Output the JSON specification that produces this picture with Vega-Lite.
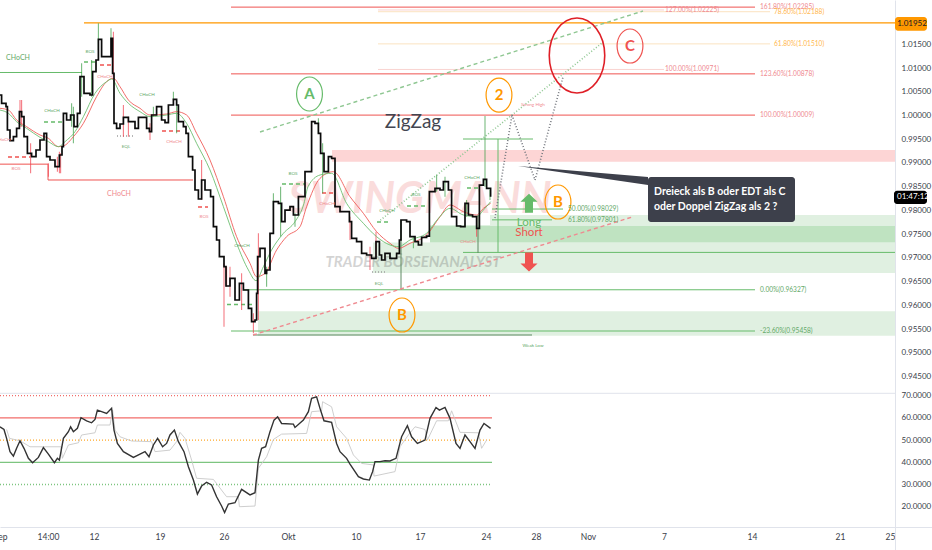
{
  "$schema": "https://vega.github.io/schema/vega-lite/v5.json",
  "width": 932,
  "height": 550,
  "padding": 0,
  "autosize": {"type": "none"},
  "background": "white",
  "config": {"view": {"stroke": null}, "font": "Lato"},
  "datasets": {
    "close": [
      {"t":0,"p":1.00433},{"t":0.8,"p":1.00257},{"t":3,"p":1.00187},{"t":3.7,"p":0.99695},{"t":5,"p":0.9947},{"t":6.7,"p":0.99554},{"t":8.3,"p":0.9973},{"t":9.7,"p":1.00081},{"t":10.8,"p":0.99976},{"t":12,"p":0.99554},{"t":13.7,"p":0.99203},{"t":15.8,"p":0.99133},{"t":18,"p":0.99273},{"t":20,"p":0.99484},{"t":22,"p":0.99625},{"t":23.3,"p":0.99133},{"t":25,"p":0.99062},{"t":27.5,"p":0.98922},{"t":29.7,"p":0.99168},{"t":31,"p":0.99344},{"t":31.7,"p":1.00046},{"t":33.3,"p":0.99906},{"t":35.3,"p":1.00011},{"t":37,"p":0.99765},{"t":38.7,"p":1.00046},{"t":40,"p":1.00819},{"t":42,"p":1.00468},{"t":45,"p":1.00433},{"t":46.3,"p":1.00924},{"t":48,"p":1.0117},{"t":49.2,"p":1.01606},{"t":50.8,"p":1.01241},{"t":53,"p":1.01241},{"t":55.5,"p":1.01627},{"t":56.3,"p":1.00889},{"t":57,"p":0.99835},{"t":58.3,"p":0.9973},{"t":60,"p":0.99821},{"t":61.7,"p":0.99962},{"t":64.2,"p":0.9987},{"t":67.5,"p":0.9973},{"t":69.2,"p":0.99962},{"t":72,"p":0.99962},{"t":73.3,"p":0.9973},{"t":74.7,"p":0.9966},{"t":75.8,"p":1.00011},{"t":78.3,"p":1.00187},{"t":80.8,"p":0.99906},{"t":82.5,"p":0.99849},{"t":84.2,"p":1.00222},{"t":86.7,"p":1.00341},{"t":88.3,"p":1.00222},{"t":89.2,"p":0.9987},{"t":91.7,"p":0.99765},{"t":93,"p":0.99625},{"t":94.2,"p":0.99133},{"t":96.3,"p":0.98852},{"t":97.5,"p":0.9843},{"t":99.2,"p":0.9824},{"t":100.8,"p":0.98641},{"t":102.5,"p":0.9843},{"t":105.3,"p":0.9829},{"t":106.7,"p":0.97657},{"t":108.3,"p":0.97376},{"t":109.7,"p":0.97025},{"t":112,"p":0.96814},{"t":113,"p":0.96407},{"t":115,"p":0.96568},{"t":117.5,"p":0.96112},{"t":119.7,"p":0.96463},{"t":121.7,"p":0.96322},{"t":124.2,"p":0.95936},{"t":125.8,"p":0.95655},{"t":127.5,"p":0.9569},{"t":128.3,"p":0.96252},{"t":128.8,"p":0.97025},{"t":130,"p":0.972},{"t":132.5,"p":0.96673},{"t":133.3,"p":0.96744},{"t":135,"p":0.97517},{"t":136.7,"p":0.98184},{"t":139.2,"p":0.98149},{"t":140.8,"p":0.97762},{"t":142.5,"p":0.98008},{"t":145,"p":0.98079},{"t":146.7,"p":0.97903},{"t":149.2,"p":0.98289},{"t":152.5,"p":0.98816},{"t":155.8,"p":0.9987},{"t":157.5,"p":0.99835},{"t":159.2,"p":0.99624},{"t":160.3,"p":0.99203},{"t":162,"p":0.98816},{"t":164.2,"p":0.99133},{"t":165.8,"p":0.99097},{"t":167.5,"p":0.98079},{"t":170,"p":0.97973},{"t":172.5,"p":0.97973},{"t":174.7,"p":0.97762},{"t":175.8,"p":0.97411},{"t":178.3,"p":0.97341},{"t":180.8,"p":0.97095},{"t":183.3,"p":0.9706},{"t":185.8,"p":0.9699},{"t":188,"p":0.97341},{"t":189.7,"p":0.9706},{"t":190.8,"p":0.96955},{"t":192.5,"p":0.97095},{"t":195,"p":0.9699},{"t":198.3,"p":0.97095},{"t":199.7,"p":0.97376},{"t":200.5,"p":0.97798},{"t":203.3,"p":0.97762},{"t":205,"p":0.97446},{"t":207.5,"p":0.97341},{"t":209.2,"p":0.97271},{"t":210.8,"p":0.97432},{"t":213.3,"p":0.9746},{"t":214.7,"p":0.98395},{"t":217.5,"p":0.98465},{"t":220,"p":0.9843},{"t":221.7,"p":0.98606},{"t":224.2,"p":0.9843},{"t":225.8,"p":0.97868},{"t":228.3,"p":0.97671},{"t":230.3,"p":0.97657},{"t":232.5,"p":0.98149},{"t":234.2,"p":0.97903},{"t":236.3,"p":0.97868},{"t":238.3,"p":0.97622},{"t":239.7,"p":0.98535},{"t":241.7,"p":0.98655},{"t":243.3,"p":0.98465},{"t":245.3,"p":0.98289}
    ],
    "wicks": [
      {"t":10,"p":1.00327,"p2":0.99765,"tone":"wickred"},{"t":10.8,"p":1.00327,"p2":0.99765,"tone":"wickred"},{"t":15.3,"p":0.99414,"p2":0.98781,"tone":"wickred"},{"t":24.2,"p":0.98992,"p2":0.98711,"tone":"wickred"},{"t":29.7,"p":0.99238,"p2":0.98781,"tone":"wickred"},{"t":28.7,"p":0.99133,"p2":0.98817,"tone":"wickred"},{"t":30.3,"p":0.99203,"p2":0.98781,"tone":"wickred"},{"t":56.7,"p":1.01768,"p2":1.00819,"tone":"wickred"},{"t":75,"p":0.99835,"p2":0.99484,"tone":"wickred"},{"t":61.7,"p":1.00222,"p2":0.99554,"tone":"wickred"},{"t":64.2,"p":0.99976,"p2":0.99554,"tone":"wickred"},{"t":100.8,"p":0.99062,"p2":0.98219,"tone":"wickred"},{"t":112,"p":0.96885,"p2":0.95549,"tone":"wickred"},{"t":115,"p":0.96814,"p2":0.96182,"tone":"wickred"},{"t":113.3,"p":0.96814,"p2":0.96393,"tone":"wickred"},{"t":120.8,"p":0.96674,"p2":0.95901,"tone":"wickred"},{"t":126.7,"p":0.95831,"p2":0.95409,"tone":"wickred"},{"t":129.2,"p":0.97517,"p2":0.9569,"tone":"wickred"},{"t":36.7,"p":1.00187,"p2":0.99414,"tone":"wickgreen"},{"t":35.8,"p":1.00257,"p2":0.99765,"tone":"wickgreen"},{"t":49.2,"p":1.01943,"p2":1.01381,"tone":"wickgreen"},{"t":55.5,"p":1.01838,"p2":1.01592,"tone":"wickgreen"},{"t":40.8,"p":1.011,"p2":1.00398,"tone":"wickgreen"},{"t":45.8,"p":1.0117,"p2":1.00398,"tone":"wickgreen"},{"t":86.7,"p":1.00503,"p2":1.00327,"tone":"wickgreen"},{"t":88.3,"p":1.00327,"p2":0.99625,"tone":"wickgreen"},{"t":76.7,"p":1.00187,"p2":0.99976,"tone":"wickgreen"},{"t":136.7,"p":0.9836,"p2":0.98008,"tone":"wickgreen"},{"t":133.3,"p":0.96814,"p2":0.96393,"tone":"wickgreen"},{"t":140.3,"p":0.985,"p2":0.97446,"tone":"wickgreen"},{"t":147.5,"p":0.97938,"p2":0.97657,"tone":"wickgreen"},{"t":159.2,"p":0.99941,"p2":0.99624,"tone":"wickgreen"},{"t":161.3,"p":0.99414,"p2":0.9836,"tone":"wickgreen"},{"t":175,"p":0.97868,"p2":0.97376,"tone":"wickred"},{"t":185,"p":0.97235,"p2":0.96744,"tone":"wickred"},{"t":188,"p":0.97552,"p2":0.97025,"tone":"wickred"},{"t":206.7,"p":0.97446,"p2":0.972,"tone":"wickgreen"},{"t":218.3,"p":0.98746,"p2":0.98395,"tone":"wickgreen"},{"t":222.5,"p":0.98711,"p2":0.98289,"tone":"wickgreen"},{"t":238.3,"p":0.97868,"p2":0.97446,"tone":"wickred"},{"t":242.5,"p":0.99992,"p2":0.985,"tone":"wickgreen"},{"t":245,"p":0.9843,"p2":0.98219,"tone":"wickgreen"},{"t":233.3,"p":0.98219,"p2":0.97868,"tone":"wickgreen"}
    ],
    "maRed": [
      {"t":0,"p":1.00152},{"t":4.2,"p":1.00116},{"t":8.3,"p":0.99906},{"t":13.3,"p":0.99765},{"t":20,"p":0.9959},{"t":24.2,"p":0.99519},{"t":29.2,"p":0.99344},{"t":31.7,"p":0.99358},{"t":36.7,"p":0.99554},{"t":41.7,"p":0.99835},{"t":48.3,"p":1.00398},{"t":53.3,"p":1.00714},{"t":56.7,"p":1.00784},{"t":60,"p":1.00608},{"t":64.2,"p":1.00327},{"t":70,"p":1.00152},{"t":75,"p":1.00011},{"t":83.3,"p":1.00032},{"t":88.3,"p":1.00081},{"t":93.3,"p":1.00011},{"t":98.3,"p":0.99625},{"t":105,"p":0.99062},{"t":111.7,"p":0.9829},{"t":118.3,"p":0.97447},{"t":125,"p":0.96885},{"t":128.3,"p":0.96603},{"t":132.5,"p":0.96674},{"t":138.3,"p":0.97166},{"t":143.3,"p":0.97447},{"t":150,"p":0.97657},{"t":153.3,"p":0.98079},{"t":160,"p":0.98676},{"t":166.7,"p":0.98816},{"t":175,"p":0.98289},{"t":181.7,"p":0.97938},{"t":188.3,"p":0.97552},{"t":195,"p":0.97306},{"t":199.2,"p":0.972},{"t":205,"p":0.97306},{"t":213.3,"p":0.97481},{"t":220,"p":0.97868},{"t":225,"p":0.98114},{"t":231.7,"p":0.97973},{"t":238.3,"p":0.97903},{"t":241.7,"p":0.98043},{"t":245.3,"p":0.98149}
    ],
    "maGreen": [
      {"t":0,"p":1.00116},{"t":4.2,"p":1.00046},{"t":8.3,"p":0.9987},{"t":13.3,"p":0.9973},{"t":20,"p":0.9954},{"t":24.2,"p":0.99449},{"t":29.2,"p":0.99344},{"t":32.5,"p":0.99449},{"t":37.5,"p":0.9966},{"t":41.7,"p":0.99976},{"t":47.5,"p":1.00468},{"t":53.3,"p":1.00714},{"t":55.8,"p":1.0077},{"t":60,"p":1.00468},{"t":64.2,"p":1.00257},{"t":70,"p":1.00081},{"t":75,"p":0.99976},{"t":83.3,"p":1.00011},{"t":88.3,"p":1.00046},{"t":93.3,"p":0.99835},{"t":98.3,"p":0.99414},{"t":105,"p":0.98852},{"t":111.7,"p":0.98079},{"t":118.3,"p":0.97306},{"t":124.2,"p":0.96744},{"t":128,"p":0.96519},{"t":131.7,"p":0.96814},{"t":135.8,"p":0.97166},{"t":141.7,"p":0.97517},{"t":147.5,"p":0.97763},{"t":152,"p":0.98149},{"t":154,"p":0.985},{"t":160,"p":0.98746},{"t":165.8,"p":0.98781},{"t":173.3,"p":0.98149},{"t":181.7,"p":0.97727},{"t":188.3,"p":0.97446},{"t":195,"p":0.97271},{"t":199.2,"p":0.97236},{"t":205,"p":0.97376},{"t":213.3,"p":0.97517},{"t":219.2,"p":0.97833},{"t":225,"p":0.98043},{"t":231.7,"p":0.97903},{"t":238.3,"p":0.97868},{"t":241.7,"p":0.98008},{"t":245.3,"p":0.98184}
    ],
    "zones": [
      {"t":166,"t2":447.5,"p":0.99273,"p2":0.99027,"tone":"bandred"},
      {"t":186.5,"t2":447.5,"p":0.97323,"p2":0.96681,"tone":"bandlight"},
      {"t":215,"t2":447.5,"p":0.97682,"p2":0.97323,"tone":"banddark"},
      {"t":245,"t2":447.5,"p":0.97903,"p2":0.97682,"tone":"bandlight"},
      {"t":129,"t2":447.5,"p":0.95873,"p2":0.95359,"tone":"bandlight"}
    ],
    "segments": [
      {"t":0,"t2":447.5,"p":0.94145,"p2":0.94145,"tone":"pane","style":"solid"},
      {"t":42,"t2":447.5,"p":1.01952,"p2":1.01952,"tone":"orange","style":"heavy"},
      {"t":115.5,"t2":377.5,"p":1.02285,"p2":1.02285,"tone":"red","style":"solid"},
      {"t":189,"t2":332,"p":1.02225,"p2":1.02225,"tone":"palesalmon","style":"solid"},
      {"t":189,"t2":385,"p":1.02188,"p2":1.02188,"tone":"paleamber","style":"solid"},
      {"t":189,"t2":385,"p":1.0151,"p2":1.0151,"tone":"paleamber","style":"solid"},
      {"t":189,"t2":332,"p":1.00971,"p2":1.00971,"tone":"palesalmon","style":"solid"},
      {"t":115.5,"t2":377.5,"p":1.00878,"p2":1.00878,"tone":"red","style":"solid"},
      {"t":115.5,"t2":377.5,"p":1.00009,"p2":1.00009,"tone":"red","style":"solid"},
      {"t":246,"t2":281.5,"p":0.98029,"p2":0.98029,"tone":"green","style":"solid"},
      {"t":246,"t2":276,"p":0.97801,"p2":0.97801,"tone":"green","style":"solid"},
      {"t":121.5,"t2":377.5,"p":0.96327,"p2":0.96327,"tone":"green","style":"solid"},
      {"t":115.5,"t2":377.5,"p":0.95458,"p2":0.95458,"tone":"green","style":"solid"},
      {"t":126.5,"t2":266,"p":0.95374,"p2":0.95374,"tone":"dark","style":"solid"},
      {"t":231.5,"t2":447.5,"p":0.97115,"p2":0.97115,"tone":"green","style":"solid"},
      {"t":231.5,"t2":266.5,"p":0.99505,"p2":0.99505,"tone":"green","style":"solid"},
      {"t":249,"t2":249,"p":0.99505,"p2":0.97115,"tone":"green","style":"solid"},
      {"t":239,"t2":239,"p":0.97903,"p2":0.97102,"tone":"dark","style":"solid"},
      {"t":200.5,"t2":200.5,"p":0.97798,"p2":0.96322,"tone":"dark","style":"solid"},
      {"t":0,"t2":41,"p":1.00907,"p2":1.00907,"tone":"green","style":"solid"},
      {"t":0,"t2":24,"p":0.98975,"p2":0.98975,"tone":"red","style":"solid"},
      {"t":24,"t2":96.5,"p":0.98641,"p2":0.98641,"tone":"red","style":"solid"},
      {"t":24,"t2":24,"p":0.98975,"p2":0.98641,"tone":"red","style":"solid"},
      {"t":42,"t2":47.5,"p":1.01128,"p2":1.01128,"tone":"green","style":"dash"},
      {"t":22,"t2":31,"p":0.99863,"p2":0.99863,"tone":"green","style":"dash"},
      {"t":113.5,"t2":127.5,"p":0.96018,"p2":0.96018,"tone":"green","style":"dash"},
      {"t":141,"t2":152.5,"p":0.98556,"p2":0.98556,"tone":"green","style":"dash"},
      {"t":188.5,"t2":195,"p":0.97755,"p2":0.97755,"tone":"green","style":"dash"},
      {"t":203.5,"t2":212.5,"p":0.98093,"p2":0.98093,"tone":"green","style":"dash"},
      {"t":233.5,"t2":239,"p":0.98472,"p2":0.98472,"tone":"green","style":"dash"},
      {"t":4,"t2":15,"p":0.99126,"p2":0.99126,"tone":"red","style":"dash"},
      {"t":99,"t2":104,"p":0.98072,"p2":0.98072,"tone":"red","style":"dash"},
      {"t":81,"t2":90,"p":0.99674,"p2":0.99674,"tone":"red","style":"dash"},
      {"t":50,"t2":56,"p":1.01065,"p2":1.01065,"tone":"red","style":"dash"},
      {"t":161,"t2":167.5,"p":0.98367,"p2":0.98367,"tone":"red","style":"dash"},
      {"t":58.5,"t2":67.5,"p":0.99568,"p2":0.99568,"tone":"grey","style":"dot"},
      {"t":186,"t2":192.5,"p":0.96701,"p2":0.96701,"tone":"grey","style":"dot"},
      {"t":126.5,"t2":316.5,"p":0.95374,"p2":0.97867,"tone":"salmon","style":"dash"},
      {"t":130,"t2":321.5,"p":0.99653,"p2":1.02203,"tone":"sage","style":"dash"},
      {"t":189,"t2":301,"p":0.97755,"p2":1.01529,"tone":"sage","style":"dot"},
      {"t":247.5,"t2":256,"p":0.9784,"p2":1.00011,"tone":"ink","style":"dot"},
      {"t":256,"t2":267.5,"p":1.00011,"p2":0.98641,"tone":"ink","style":"dot"},
      {"t":267.5,"t2":281.5,"p":0.98641,"p2":1.00812,"tone":"ink","style":"dot"}
    ],
    "tail": [
      {"t":259,"p":0.98936,"p2":0.98936,"tone":"slate"},
      {"t":324,"p":0.98704,"p2":0.98535,"tone":"slate"}
    ],
    "boxes": [
      {"t":324,"t2":397.5,"p":0.98704,"p2":0.97755,"tone":"slate"},
      {"t":447.5,"t2":463.5,"p":1.02077,"p2":1.01788,"tone":"orange"},
      {"t":447,"t2":463.5,"p":0.98415,"p2":0.98135,"tone":"black"}
    ],
    "ellipses": [
      {"t":154.75,"p":1.00454,"tone":"green","ry":16},
      {"t":249.5,"p":1.00432,"tone":"orange","ry":17},
      {"t":315,"p":1.01465,"tone":"red","ry":17},
      {"t":288.5,"p":1.01265,"tone":"deepred","ry":37.5},
      {"t":201,"p":0.95795,"tone":"orange","ry":17},
      {"t":279,"p":0.98177,"tone":"orange","ry":17}
    ],
    "letters": [
      {"t":154.75,"p":1.00454,"tone":"green","label":"A"},
      {"t":249.5,"p":1.00432,"tone":"orange","label":"2"},
      {"t":315,"p":1.01465,"tone":"red","label":"C"},
      {"t":201,"p":0.95795,"tone":"orange","label":"B"},
      {"t":279,"p":0.98177,"tone":"orange","label":"B"}
    ],
    "fibLabels": [
      {"t":380,"p":1.02285,"tone":"salmon","label":"161.80%(1.02285)"},
      {"t":332.5,"p":1.02225,"tone":"salmon","label":"127.00%(1.02225)"},
      {"t":387,"p":1.02188,"tone":"amber","label":"78.60%(1.02188)"},
      {"t":387,"p":1.0151,"tone":"amber","label":"61.80%(1.01510)"},
      {"t":332.5,"p":1.00971,"tone":"salmon","label":"100.00%(1.00971)"},
      {"t":380,"p":1.00878,"tone":"salmon","label":"123.60%(1.00878)"},
      {"t":380,"p":1.00009,"tone":"salmon","label":"100.00%(1.00009)"},
      {"t":284,"p":0.98029,"tone":"olive","label":"50.00%(0.98029)"},
      {"t":284,"p":0.97801,"tone":"olive","label":"61.80%(0.97801)"},
      {"t":380,"p":0.96327,"tone":"olive","label":"0.00%(0.96327)"},
      {"t":380,"p":0.95458,"tone":"olive","label":"-23.60%(0.95458)"}
    ],
    "structure": [
      {"t":45,"p":1.01339,"tone":"olive","label":"BOS"},
      {"t":52.5,"p":1.00812,"tone":"salmon","label":"CHoCH"},
      {"t":26,"p":1.00095,"tone":"olive","label":"CHoCH"},
      {"t":1.5,"p":0.99484,"tone":"salmon","label":"CHoCH"},
      {"t":8,"p":0.98873,"tone":"salmon","label":"BOS"},
      {"t":63,"p":0.99336,"tone":"olive","label":"EQL"},
      {"t":73.5,"p":1.00432,"tone":"olive","label":"CHoCH"},
      {"t":87,"p":0.99442,"tone":"salmon","label":"CHoCH"},
      {"t":102,"p":0.97861,"tone":"salmon","label":"BOS"},
      {"t":121,"p":0.9725,"tone":"olive","label":"CHoCH"},
      {"t":146.5,"p":0.98767,"tone":"olive","label":"BOS"},
      {"t":163.5,"p":0.98135,"tone":"salmon","label":"CHoCH"},
      {"t":193.5,"p":0.97987,"tone":"olive","label":"CHoCH"},
      {"t":208,"p":0.98325,"tone":"olive","label":"BOS"},
      {"t":236,"p":0.98683,"tone":"olive","label":"CHoCH"},
      {"t":234,"p":0.97334,"tone":"salmon","label":"CHoCH"},
      {"t":189.5,"p":0.96448,"tone":"olive","label":"EQL"},
      {"t":266.5,"p":1.00222,"tone":"salmon","label":"Strong High"},
      {"t":266.5,"p":0.95142,"tone":"olive","label":"Weak Low"}
    ],
    "bigChoch": [
      {"t":9,"p":1.01212,"tone":"olive","label":"CHoCH"},
      {"t":59.5,"p":0.98346,"tone":"salmon","label":"CHoCH"}
    ],
    "arrows": [
      {"t":264.5,"p":0.98152,"tone":"green","dir":"up"},
      {"t":264.5,"p":0.96912,"tone":"red","dir":"down"}
    ],
    "longShort": [
      {"t":264.5,"p":0.97734,"tone":"green","label":"Long"},
      {"t":264.5,"p":0.97524,"tone":"red","label":"Short"}
    ],
    "callout": [
      {"t":327,"p":0.98394,"label":"Dreieck als B oder EDT als C"},
      {"t":327,"p":0.98078,"label":"oder Doppel ZigZag als 2 ?"}
    ],
    "levels": [
      {"t":0,"t2":246,"rsi":70,"tone":"red","style":"dot"},
      {"t":0,"t2":246,"rsi":60,"tone":"red","style":"solid"},
      {"t":0,"t2":246,"rsi":50,"tone":"orange","style":"dot"},
      {"t":0,"t2":246,"rsi":40,"tone":"green","style":"solid"},
      {"t":0,"t2":246,"rsi":30,"tone":"green","style":"dot"}
    ],
    "rsi": [
      {"t":0,"rsi":56},{"t":2,"rsi":54.8},{"t":3.3,"rsi":50.8},{"t":5,"rsi":44.8},{"t":6.7,"rsi":42.8},{"t":8.3,"rsi":46.3},{"t":10,"rsi":49.7},{"t":12,"rsi":46.3},{"t":14.2,"rsi":41.8},{"t":16.3,"rsi":39.8},{"t":19.2,"rsi":42.2},{"t":21.7,"rsi":46.6},{"t":24.2,"rsi":43.7},{"t":27.2,"rsi":39.8},{"t":28.7,"rsi":41.8},{"t":29.7,"rsi":41},{"t":31.7,"rsi":50.8},{"t":34.2,"rsi":53.8},{"t":35.3,"rsi":56},{"t":36.7,"rsi":53.8},{"t":38.7,"rsi":55.3},{"t":40.5,"rsi":60.1},{"t":43.3,"rsi":58.7},{"t":45.8,"rsi":57.8},{"t":47.5,"rsi":59.3},{"t":48.7,"rsi":63.5},{"t":50.8,"rsi":62.8},{"t":53.3,"rsi":62},{"t":55.8,"rsi":64.3},{"t":57,"rsi":54.5},{"t":58.7,"rsi":48.5},{"t":61.7,"rsi":44.8},{"t":66.7,"rsi":42.2},{"t":70,"rsi":43.7},{"t":72.5,"rsi":44.8},{"t":74.5,"rsi":42.5},{"t":76.7,"rsi":47.8},{"t":78.8,"rsi":50.8},{"t":81.3,"rsi":47},{"t":83.3,"rsi":48.5},{"t":85,"rsi":52.3},{"t":87.2,"rsi":54.5},{"t":89.2,"rsi":49.3},{"t":92,"rsi":44.8},{"t":94.2,"rsi":38},{"t":96.7,"rsi":32},{"t":98.7,"rsi":25.7},{"t":100.8,"rsi":29.3},{"t":103.3,"rsi":31},{"t":105.8,"rsi":29.8},{"t":108.3,"rsi":24.5},{"t":110.8,"rsi":20.3},{"t":112.3,"rsi":17.4},{"t":114.2,"rsi":21.2},{"t":117.5,"rsi":21.8},{"t":120.8,"rsi":27.8},{"t":125,"rsi":25.3},{"t":127.5,"rsi":26.3},{"t":129.2,"rsi":41},{"t":130.8,"rsi":46.3},{"t":132.8,"rsi":47},{"t":135,"rsi":53.8},{"t":137,"rsi":59},{"t":138.8,"rsi":60.5},{"t":140.8,"rsi":57.5},{"t":146.7,"rsi":57.2},{"t":147.5,"rsi":55.7},{"t":151.7,"rsi":59},{"t":154.2,"rsi":62.8},{"t":155.8,"rsi":68.8},{"t":158.3,"rsi":69.5},{"t":160,"rsi":64.3},{"t":162,"rsi":58.7},{"t":165.8,"rsi":58},{"t":168.3,"rsi":48.5},{"t":170,"rsi":44.8},{"t":173.3,"rsi":41.8},{"t":175,"rsi":39.2},{"t":179.2,"rsi":33.5},{"t":181.7,"rsi":32.5},{"t":184.7,"rsi":32},{"t":186.3,"rsi":35.8},{"t":187.5,"rsi":40.3},{"t":190,"rsi":40.3},{"t":192.5,"rsi":40.7},{"t":195,"rsi":40.6},{"t":198,"rsi":41.8},{"t":200.8,"rsi":51.5},{"t":203.7,"rsi":56.5},{"t":205.8,"rsi":51.5},{"t":208.7,"rsi":48.5},{"t":212.5,"rsi":50},{"t":215,"rsi":59.8},{"t":218,"rsi":64.7},{"t":219.7,"rsi":63.5},{"t":222.5,"rsi":64.7},{"t":225,"rsi":59.8},{"t":228,"rsi":48.5},{"t":230,"rsi":46.3},{"t":232.5,"rsi":52.3},{"t":235,"rsi":49.3},{"t":237.5,"rsi":46.3},{"t":240,"rsi":54.5},{"t":242,"rsi":57.5},{"t":245.3,"rsi":55.3}
    ],
    "rsiMa": [
      {"t":3.3,"rsi":54.8},{"t":4.7,"rsi":50.8},{"t":10,"rsi":49.7},{"t":15,"rsi":47},{"t":21.7,"rsi":47},{"t":30.5,"rsi":47},{"t":31.2,"rsi":41.8},{"t":34.2,"rsi":47.8},{"t":39.2,"rsi":48.8},{"t":40.8,"rsi":52.3},{"t":47.5,"rsi":53.3},{"t":48.7,"rsi":56.8},{"t":55,"rsi":56.8},{"t":56.3,"rsi":63.5},{"t":57.5,"rsi":54.5},{"t":60,"rsi":51.5},{"t":65.8,"rsi":49.6},{"t":75.8,"rsi":49.3},{"t":77.5,"rsi":44.8},{"t":85,"rsi":45.5},{"t":88.3,"rsi":49.3},{"t":90,"rsi":53.5},{"t":92.5,"rsi":50.8},{"t":95.8,"rsi":41},{"t":98.3,"rsi":32.8},{"t":106.7,"rsi":32.3},{"t":113.3,"rsi":24.5},{"t":119.2,"rsi":24.5},{"t":119.7,"rsi":20},{"t":127.5,"rsi":20.3},{"t":129.2,"rsi":37.3},{"t":133.3,"rsi":42.5},{"t":136.7,"rsi":50.3},{"t":140.8,"rsi":52.7},{"t":153.3,"rsi":53},{"t":155.8,"rsi":62.8},{"t":160.8,"rsi":63.2},{"t":161.3,"rsi":67.3},{"t":165.8,"rsi":65},{"t":168.3,"rsi":56},{"t":173.3,"rsi":50.8},{"t":176.7,"rsi":43.3},{"t":180.8,"rsi":39.5},{"t":186.7,"rsi":38.8},{"t":187,"rsi":33.8},{"t":197.5,"rsi":35.8},{"t":200,"rsi":47},{"t":204.2,"rsi":52.3},{"t":207.5,"rsi":56},{"t":212.5,"rsi":54.8},{"t":213.7,"rsi":50},{"t":218.3,"rsi":58.7},{"t":224.2,"rsi":58.7},{"t":225.8,"rsi":63.2},{"t":230,"rsi":53.5},{"t":239.2,"rsi":53.3},{"t":240.8,"rsi":46.3},{"t":243.3,"rsi":50}
    ]
  },
  "encoding": {
    "x": {
      "field": "t",
      "type": "quantitative",
      "scale": {"domain": [0, 466], "nice": false, "zero": false},
      "axis": {
        "orient": "bottom",
        "offset": -23,
        "title": null,
        "grid": false,
        "ticks": false,
        "domainColor": "#e0e3eb",
        "labelColor": "#3a3e4a",
        "labelFont": "Lato",
        "labelFontSize": 8.5,
        "labelPadding": 5,
        "labelFlush": false,
        "labelBound": false,
        "labelOverlap": false,
        "values": [0, 24, 47, 80, 112, 144, 178, 210, 243, 268, 294, 332, 376, 420, 445],
        "labelExpr": "{'0':'Sep','24':'14:00','47':'12','80':'19','112':'26','144':'Okt','178':'10','210':'17','243':'24','268':'28','294':'Nov','332':'7','376':'14','420':'21','445':'25'}[datum.value]"
      }
    },
    "color": {
      "field": "tone",
      "type": "nominal",
      "legend": null,
      "scale": {
        "domain": ["green", "red", "orange", "amber", "paleamber", "palesalmon", "salmon", "olive", "sage", "dark", "grey", "black", "deepred", "bandlight", "banddark", "bandred", "pane", "wickgreen", "wickred", "ink", "slate"],
        "range": ["#66bb6a", "#ef5350", "#ff9800", "#ffb74d", "#fbe3c0", "#f9d4d0", "#ef8a90", "#63a968", "#8fc792", "#5f8a63", "#9e9e9e", "#000000", "#df1f27", "#e0f0e1", "#bfe3c1", "#fdd5d5", "#e0e3eb", "#3f9e48", "#f0424f", "#75787f", "#3d404b"]
      }
    }
  },
  "layer": [
    {
      "encoding": {
        "y": {
          "field": "p",
          "type": "quantitative",
          "scale": {"domain": [0.90842, 1.02435], "nice": false, "zero": false},
          "axis": {
            "orient": "right",
            "offset": -37,
            "title": null,
            "grid": false,
            "ticks": false,
            "domainColor": "#e0e3eb",
            "labelColor": "#3a3e4a",
            "labelFont": "Lato",
            "labelFontSize": 8,
            "labelPadding": 6,
            "labelOverlap": false,
            "labelBound": false,
            "format": ".5f",
            "values": [0.945, 0.95, 0.955, 0.96, 0.965, 0.97, 0.975, 0.98, 0.985, 0.99, 0.995, 1, 1.005, 1.01, 1.015]
          }
        }
      },
      "layer": [
        {
          "data": {"name": "zones"},
          "mark": {"type": "rect"},
          "encoding": {"x2": {"field": "t2"}, "y2": {"field": "p2"}}
        },
        {
          "data": {"values": [{"t": 210, "p": 0.98219, "label": "SWINGMANN"}]},
          "mark": {"type": "text", "fontWeight": "bold", "fontStyle": "italic", "fontSize": 43, "opacity": 0.17},
          "encoding": {"text": {"field": "label"}, "color": {"value": "#e53935"}}
        },
        {
          "data": {"values": [{"t": 206.5, "p": 0.96912, "label": "TRADER BÖRSENANALYST"}]},
          "mark": {"type": "text", "fontWeight": "bold", "fontStyle": "italic", "fontSize": 15, "opacity": 0.25},
          "encoding": {"text": {"field": "label"}, "color": {"value": "#555555"}}
        },
        {
          "data": {"name": "segments"},
          "mark": {"type": "rule"},
          "encoding": {
            "x2": {"field": "t2"},
            "y2": {"field": "p2"},
            "strokeDash": {"field": "style", "type": "nominal", "legend": null, "scale": {"domain": ["solid", "heavy", "dash", "dot"], "range": [[1, 0], [1, 0], [4, 3], [1, 2]]}},
            "strokeWidth": {"field": "style", "type": "nominal", "legend": null, "scale": {"domain": ["solid", "heavy", "dash", "dot"], "range": [1, 1.6, 0.9, 0.9]}}
          }
        },
        {
          "data": {"name": "wicks"},
          "mark": {"type": "rule", "strokeWidth": 1.1, "opacity": 0.7},
          "encoding": {"y2": {"field": "p2"}}
        },
        {
          "data": {"name": "maRed"},
          "mark": {"type": "line", "interpolate": "monotone", "strokeWidth": 1, "opacity": 0.85},
          "encoding": {"color": {"value": "#ef5350"}}
        },
        {
          "data": {"name": "maGreen"},
          "mark": {"type": "line", "interpolate": "monotone", "strokeWidth": 1, "opacity": 0.85},
          "encoding": {"color": {"value": "#66bb6a"}}
        },
        {
          "data": {"name": "close"},
          "mark": {"type": "line", "interpolate": "step-after", "strokeWidth": 1.7},
          "encoding": {"color": {"value": "#0b0b0b"}}
        },
        {
          "data": {"name": "tail"},
          "mark": {"type": "area", "opacity": 1},
          "encoding": {"y2": {"field": "p2"}}
        },
        {
          "data": {"name": "boxes"},
          "mark": {"type": "rect", "cornerRadius": 3},
          "encoding": {"x2": {"field": "t2"}, "y2": {"field": "p2"}}
        },
        {
          "data": {"name": "ellipses"},
          "transform": [{"filter": "datum.ry < 30"}],
          "mark": {"type": "point", "filled": false, "strokeWidth": 1.2, "shape": "M-0.76,0A0.76,1 0 1,1 0.76,0A0.76,1 0 1,1 -0.76,0Z", "opacity": 1, "size": 1156}
        },
        {
          "data": {"name": "ellipses"},
          "transform": [{"filter": "datum.ry > 30"}],
          "mark": {"type": "point", "filled": false, "strokeWidth": 1.6, "shape": "M-0.74,0A0.74,1 0 1,1 0.74,0A0.74,1 0 1,1 -0.74,0Z", "opacity": 1, "size": 5625}
        },
        {
          "data": {"name": "arrows"},
          "transform": [{"filter": "datum.dir == 'up'"}],
          "mark": {"type": "point", "filled": true, "opacity": 1, "size": 361, "shape": "M0,-1L0.9,-0.15L0.42,-0.15L0.42,1L-0.42,1L-0.42,-0.15L-0.9,-0.15Z"}
        },
        {
          "data": {"name": "arrows"},
          "transform": [{"filter": "datum.dir == 'down'"}],
          "mark": {"type": "point", "filled": true, "opacity": 1, "size": 361, "shape": "M0,1L0.9,0.15L0.42,0.15L0.42,-1L-0.42,-1L-0.42,0.15L-0.9,0.15Z"}
        },
        {
          "data": {"name": "letters"},
          "mark": {"type": "text", "fontSize": 15, "fontWeight": "bold"},
          "encoding": {"text": {"field": "label"}}
        },
        {
          "data": {"name": "fibLabels"},
          "mark": {"type": "text", "align": "left", "fontSize": 6.6},
          "encoding": {"text": {"field": "label"}}
        },
        {
          "data": {"name": "structure"},
          "mark": {"type": "text", "fontSize": 4.6},
          "encoding": {"text": {"field": "label"}}
        },
        {
          "data": {"name": "bigChoch"},
          "mark": {"type": "text", "fontSize": 7},
          "encoding": {"text": {"field": "label"}}
        },
        {
          "data": {"name": "longShort"},
          "mark": {"type": "text", "fontSize": 11.5},
          "encoding": {"text": {"field": "label"}}
        },
        {
          "data": {"name": "callout"},
          "mark": {"type": "text", "align": "left", "fontSize": 10.5, "fontWeight": "bold"},
          "encoding": {"text": {"field": "label"}, "color": {"value": "#ffffff"}}
        },
        {
          "data": {"values": [{"t": 206.5, "p": 0.99863, "label": "ZigZag"}]},
          "mark": {"type": "text", "fontSize": 19},
          "encoding": {"text": {"field": "label"}, "color": {"value": "#434651"}}
        },
        {
          "data": {"values": [{"t": 456, "p": 1.01932, "label": "1.01952"}]},
          "mark": {"type": "text", "fontSize": 8},
          "encoding": {"text": {"field": "label"}, "color": {"value": "#131722"}}
        },
        {
          "data": {"values": [{"t": 456.5, "p": 0.98275, "label": "01:47:12"}]},
          "mark": {"type": "text", "fontSize": 8},
          "encoding": {"text": {"field": "label"}, "color": {"value": "#ffffff"}}
        }
      ]
    },
    {
      "encoding": {
        "y": {
          "field": "rsi",
          "type": "quantitative",
          "scale": {"domain": [0.5, 248.24], "nice": false, "zero": false},
          "axis": {
            "orient": "right",
            "offset": -37,
            "title": null,
            "grid": false,
            "ticks": false,
            "domain": false,
            "labelColor": "#3a3e4a",
            "labelFont": "Lato",
            "labelFontSize": 8,
            "labelPadding": 6,
            "labelOverlap": false,
            "labelBound": false,
            "format": ".4f",
            "values": [20, 30, 40, 50, 60, 70]
          }
        }
      },
      "layer": [
        {
          "data": {"name": "levels"},
          "mark": {"type": "rule", "opacity": 0.85},
          "encoding": {
            "x2": {"field": "t2"},
            "strokeDash": {"field": "style", "type": "nominal", "legend": null, "scale": {"domain": ["solid", "heavy", "dash", "dot"], "range": [[1, 0], [1, 0], [4, 3], [1, 1]]}},
            "strokeWidth": {"value": 1.3}
          }
        },
        {
          "data": {"name": "rsiMa"},
          "mark": {"type": "line", "strokeWidth": 0.9},
          "encoding": {"color": {"value": "#c8c8c8"}}
        },
        {
          "data": {"name": "rsi"},
          "mark": {"type": "line", "strokeWidth": 1.4},
          "encoding": {"color": {"value": "#333333"}}
        }
      ]
    }
  ],
  "resolve": {"scale": {"y": "independent"}, "axis": {"y": "independent"}}
}
